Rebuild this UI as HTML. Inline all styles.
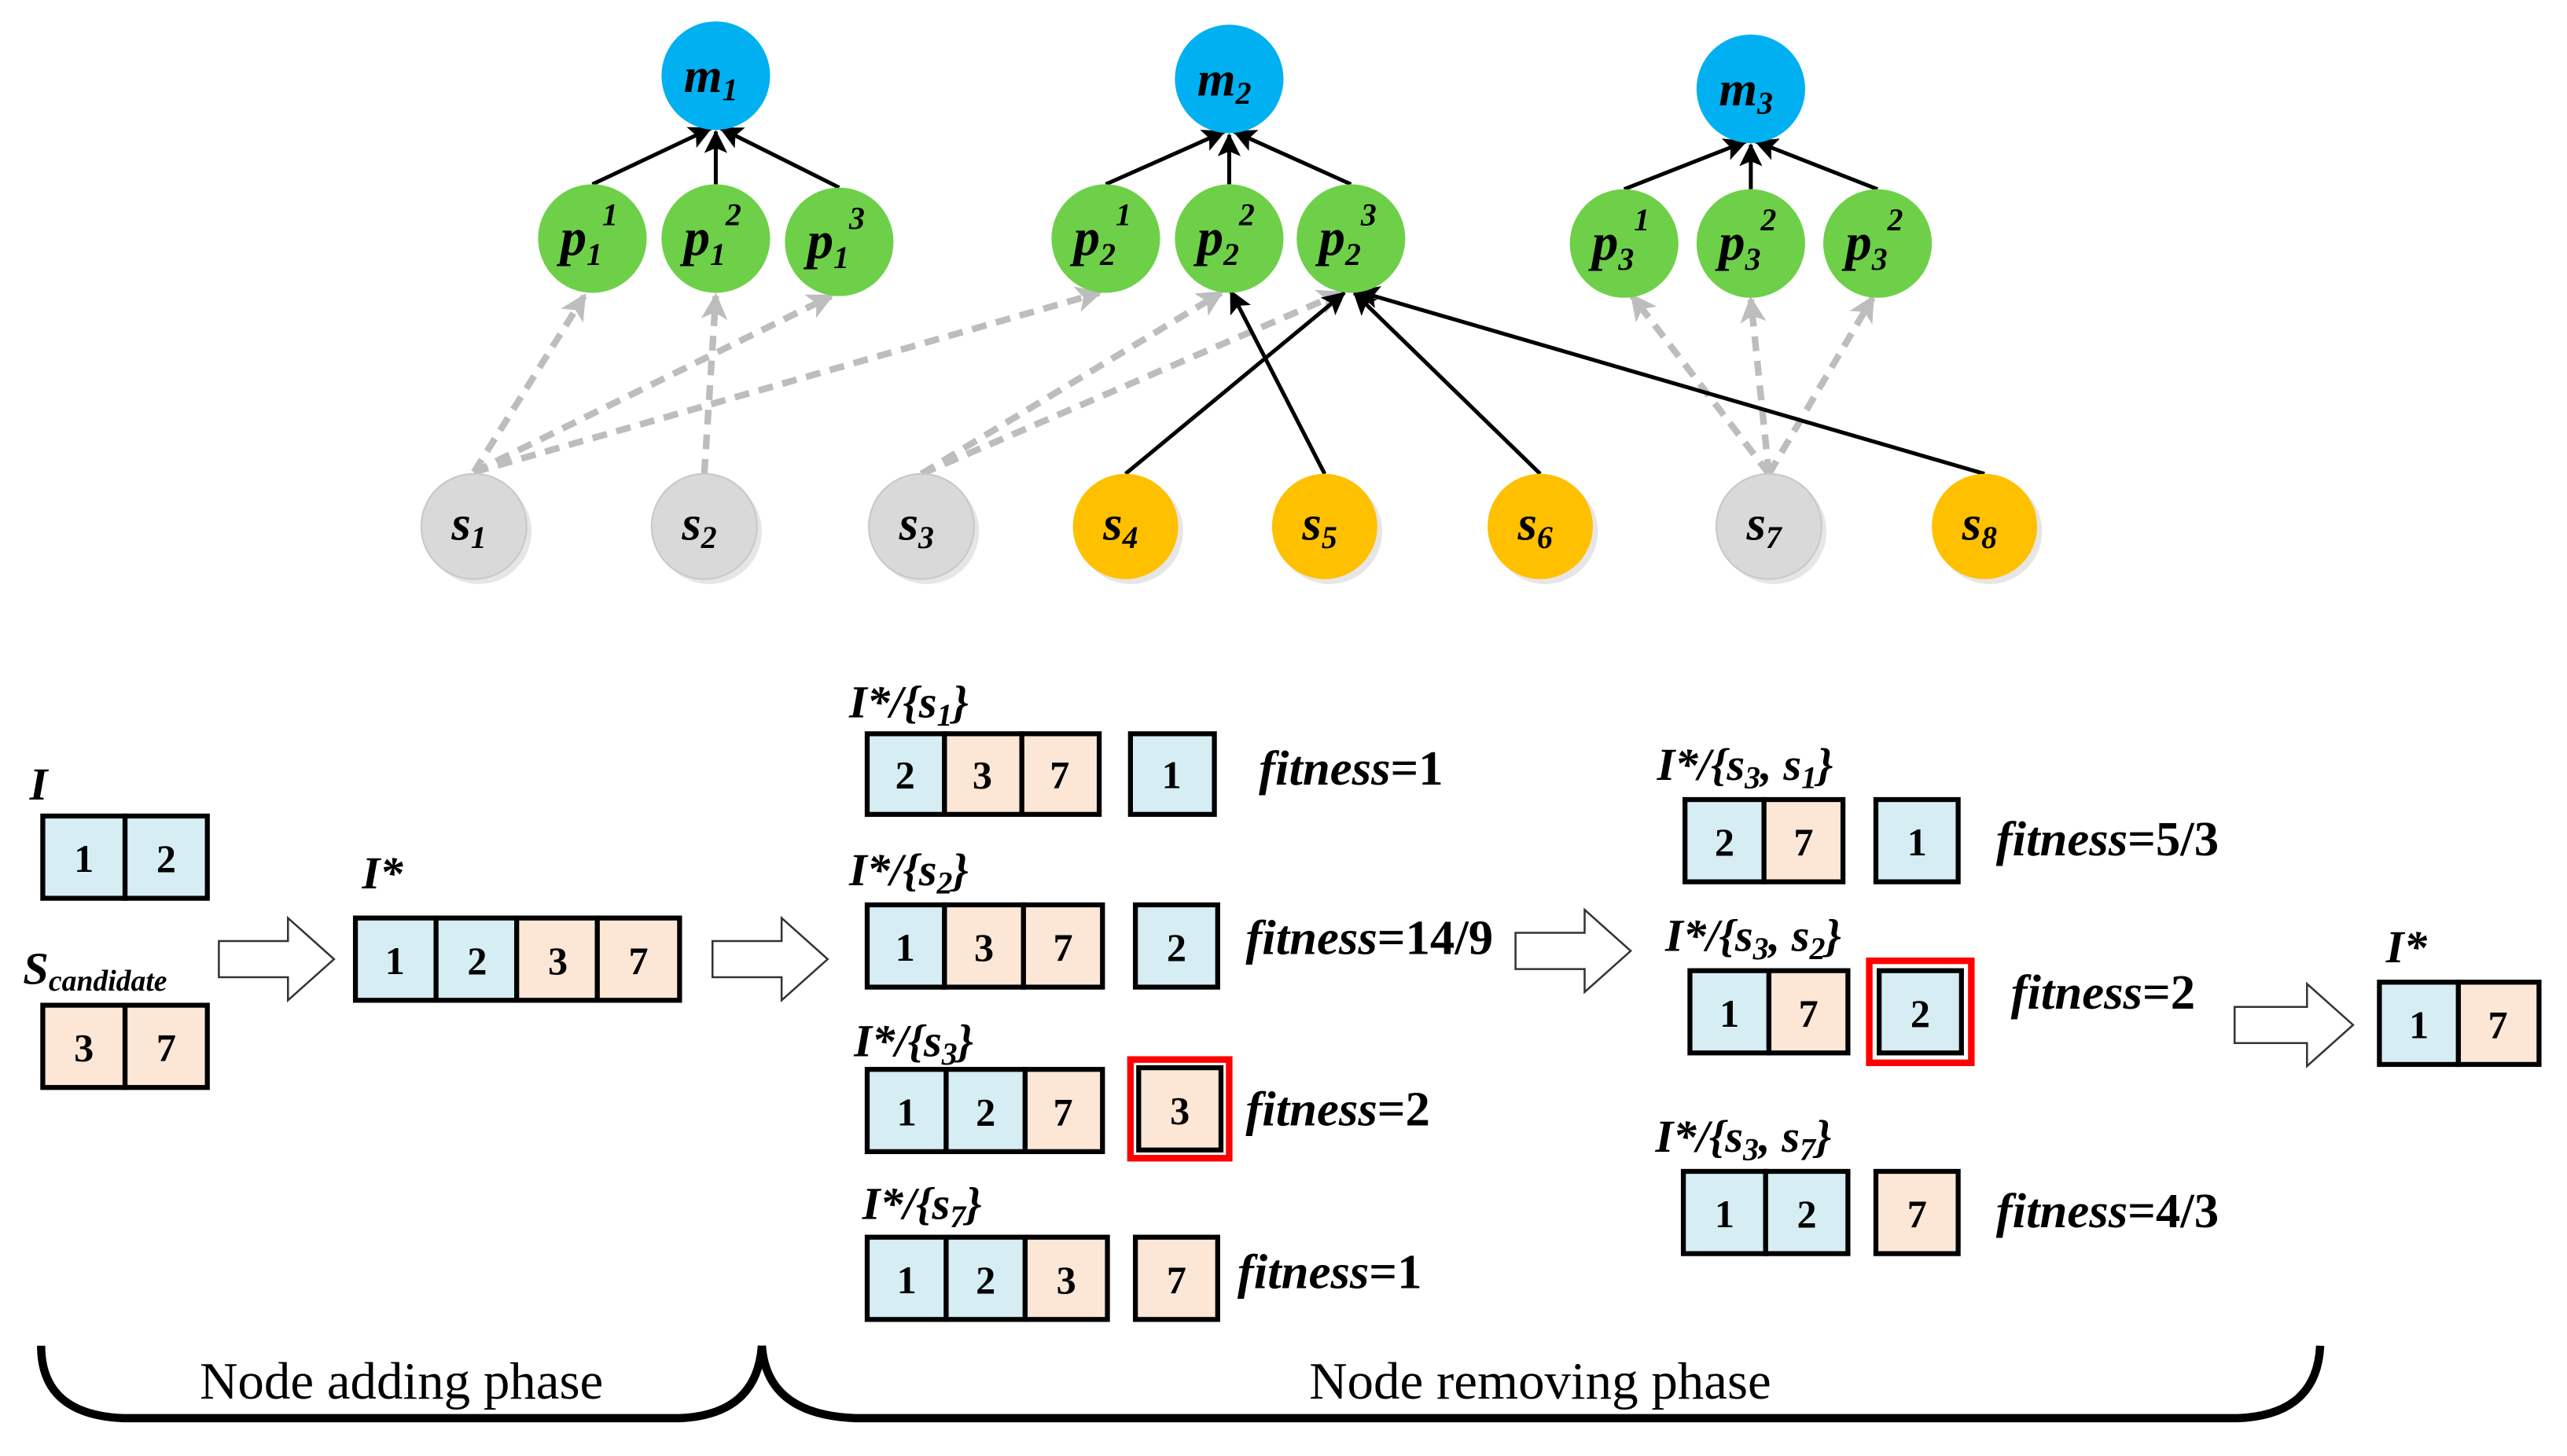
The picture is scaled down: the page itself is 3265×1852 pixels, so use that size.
<!DOCTYPE html>
<html><head><meta charset="utf-8"><style>html,body{margin:0;padding:0;background:#fff}svg{display:block}svg text{font-family:"Liberation Serif","DejaVu Serif",serif}</style></head>
<body>
<svg width="3265" height="1852" viewBox="0 0 1560 885" preserveAspectRatio="none" xmlns="http://www.w3.org/2000/svg" style="font-family:'Liberation Serif',serif">
<defs>
<marker id="ab" markerWidth="14" markerHeight="14" refX="13" refY="7" orient="auto" markerUnits="userSpaceOnUse"><path d="M0,0 L14,7 L0,14 L3,7 Z" fill="#000"/></marker>
<marker id="ag" markerWidth="16" markerHeight="16" refX="14" refY="8" orient="auto" markerUnits="userSpaceOnUse"><path d="M0,0 L16,8 L0,16 L4,8 Z" fill="#bdbdbd"/></marker>
</defs>
<g stroke="#bdbdbd" stroke-width="4" stroke-dasharray="9,6" fill="none" marker-end="url(#ag)">
<line x1="288" y1="287" x2="355" y2="180"/>
<line x1="288" y1="287" x2="505" y2="180"/>
<line x1="288" y1="287" x2="668" y2="178"/>
<line x1="428" y1="288" x2="435" y2="180"/>
<line x1="560" y1="288" x2="742" y2="178"/>
<line x1="560" y1="288" x2="815" y2="178"/>
<line x1="1075" y1="288" x2="992" y2="180"/>
<line x1="1075" y1="288" x2="1064" y2="182"/>
<line x1="1075" y1="288" x2="1138" y2="181"/>
</g>
<g stroke="#000" stroke-width="2.4" fill="none" marker-end="url(#ab)">
<line x1="360" y1="112" x2="432" y2="78"/>
<line x1="435" y1="112" x2="435" y2="80"/>
<line x1="510" y1="114" x2="438" y2="78"/>
<line x1="672" y1="112" x2="744" y2="80"/>
<line x1="747" y1="112" x2="747" y2="82"/>
<line x1="821" y1="112" x2="750" y2="80"/>
<line x1="987" y1="115" x2="1061" y2="86"/>
<line x1="1064" y1="115" x2="1064" y2="88"/>
<line x1="1141" y1="115" x2="1067" y2="86"/>
<line x1="684" y1="288" x2="817" y2="178"/>
<line x1="805" y1="288" x2="748" y2="177"/>
<line x1="936" y1="288" x2="823" y2="178"/>
<line x1="1206" y1="288" x2="825" y2="177"/>
</g>
<g font-weight="bold" font-style="italic" text-anchor="middle">
<g fill="#00b0f0"><circle cx="435" cy="46" r="33"/><circle cx="747" cy="48" r="33"/><circle cx="1064" cy="54" r="33"/></g>
<g font-size="30"><text x="432" y="56">m<tspan font-size="19" dy="5">1</tspan></text><text x="744" y="58">m<tspan font-size="19" dy="5">2</tspan></text><text x="1061" y="64">m<tspan font-size="19" dy="5">3</tspan></text></g>
<g fill="#6dd048"><circle cx="360" cy="145" r="33"/><circle cx="435" cy="145" r="33"/><circle cx="510" cy="147" r="33"/><circle cx="672" cy="145" r="33"/><circle cx="747" cy="145" r="33"/><circle cx="821" cy="145" r="33"/><circle cx="987" cy="148" r="33"/><circle cx="1064" cy="148" r="33"/><circle cx="1141" cy="148" r="33"/></g>
<g font-size="32">
<text x="358" y="155">p<tspan font-size="19" dy="6">1</tspan><tspan font-size="19" dy="-24">1</tspan></text>
<text x="433" y="155">p<tspan font-size="19" dy="6">1</tspan><tspan font-size="19" dy="-24">2</tspan></text>
<text x="508" y="157">p<tspan font-size="19" dy="6">1</tspan><tspan font-size="19" dy="-24">3</tspan></text>
<text x="670" y="155">p<tspan font-size="19" dy="6">2</tspan><tspan font-size="19" dy="-24">1</tspan></text>
<text x="745" y="155">p<tspan font-size="19" dy="6">2</tspan><tspan font-size="19" dy="-24">2</tspan></text>
<text x="819" y="155">p<tspan font-size="19" dy="6">2</tspan><tspan font-size="19" dy="-24">3</tspan></text>
<text x="985" y="158">p<tspan font-size="19" dy="6">3</tspan><tspan font-size="19" dy="-24">1</tspan></text>
<text x="1062" y="158">p<tspan font-size="19" dy="6">3</tspan><tspan font-size="19" dy="-24">2</tspan></text>
<text x="1139" y="158">p<tspan font-size="19" dy="6">3</tspan><tspan font-size="19" dy="-24">2</tspan></text>
</g>
<g fill="#e6e6e6"><circle cx="291" cy="323" r="32"/><circle cx="431" cy="323" r="32"/><circle cx="563" cy="323" r="32"/><circle cx="687" cy="323" r="32"/><circle cx="808" cy="323" r="32"/><circle cx="939" cy="323" r="32"/><circle cx="1078" cy="323" r="32"/><circle cx="1209" cy="323" r="32"/></g>
<circle cx="288" cy="320" r="32" fill="#d9d9d9" stroke="#c8c8c8"/><circle cx="428" cy="320" r="32" fill="#d9d9d9" stroke="#c8c8c8"/><circle cx="560" cy="320" r="32" fill="#d9d9d9" stroke="#c8c8c8"/>
<circle cx="684" cy="320" r="32" fill="#ffc000"/><circle cx="805" cy="320" r="32" fill="#ffc000"/><circle cx="936" cy="320" r="32" fill="#ffc000"/>
<circle cx="1075" cy="320" r="32" fill="#d9d9d9" stroke="#c8c8c8"/><circle cx="1206" cy="320" r="32" fill="#ffc000"/>
<g font-size="30">
<text x="285" y="328">s<tspan font-size="19" dy="5">1</tspan></text><text x="425" y="328">s<tspan font-size="19" dy="5">2</tspan></text><text x="557" y="328">s<tspan font-size="19" dy="5">3</tspan></text><text x="681" y="328">s<tspan font-size="19" dy="5">4</tspan></text><text x="802" y="328">s<tspan font-size="19" dy="5">5</tspan></text><text x="933" y="328">s<tspan font-size="19" dy="5">6</tspan></text><text x="1072" y="328">s<tspan font-size="19" dy="5">7</tspan></text><text x="1203" y="328">s<tspan font-size="19" dy="5">8</tspan></text>
</g>
</g>
<g stroke="#000" stroke-width="3" font-size="24" font-weight="bold" text-anchor="middle">
<rect x="26" y="496" width="50" height="50" fill="#d5edf3"/><rect x="76" y="496" width="50" height="50" fill="#d5edf3"/>
<rect x="26" y="611" width="50" height="50" fill="#fce6d6"/><rect x="76" y="611" width="50" height="50" fill="#fce6d6"/>
<rect x="216" y="558" width="49" height="50" fill="#d5edf3"/><rect x="265" y="558" width="49" height="50" fill="#d5edf3"/><rect x="314" y="558" width="49" height="50" fill="#fce6d6"/><rect x="363" y="558" width="50" height="50" fill="#fce6d6"/>
<rect x="527" y="446" width="47" height="49" fill="#d5edf3"/><rect x="574" y="446" width="47" height="49" fill="#fce6d6"/><rect x="621" y="446" width="47" height="49" fill="#fce6d6"/><rect x="687" y="446" width="51" height="49" fill="#d5edf3"/>
<rect x="527" y="550" width="47" height="50" fill="#d5edf3"/><rect x="574" y="550" width="48" height="50" fill="#fce6d6"/><rect x="622" y="550" width="48" height="50" fill="#fce6d6"/><rect x="690" y="550" width="50" height="50" fill="#d5edf3"/>
<rect x="527" y="650" width="48" height="50" fill="#d5edf3"/><rect x="575" y="650" width="48" height="50" fill="#d5edf3"/><rect x="623" y="650" width="47" height="50" fill="#fce6d6"/><rect x="692" y="649" width="50" height="50" fill="#fce6d6"/>
<rect x="527" y="752" width="48" height="50" fill="#d5edf3"/><rect x="575" y="752" width="48" height="50" fill="#d5edf3"/><rect x="623" y="752" width="50" height="50" fill="#fce6d6"/><rect x="690" y="752" width="50" height="50" fill="#fce6d6"/>
<rect x="1024" y="486" width="48" height="50" fill="#d5edf3"/><rect x="1072" y="486" width="48" height="50" fill="#fce6d6"/><rect x="1140" y="486" width="50" height="50" fill="#d5edf3"/>
<rect x="1027" y="590" width="48" height="50" fill="#d5edf3"/><rect x="1075" y="590" width="48" height="50" fill="#fce6d6"/><rect x="1142" y="590" width="50" height="50" fill="#d5edf3"/>
<rect x="1023" y="712" width="50" height="50" fill="#d5edf3"/><rect x="1073" y="712" width="50" height="50" fill="#d5edf3"/><rect x="1140" y="712" width="50" height="50" fill="#fce6d6"/>
<rect x="1446" y="597" width="48" height="50" fill="#d5edf3"/><rect x="1494" y="597" width="49" height="50" fill="#fce6d6"/>
<rect x="687" y="644" width="60" height="60" fill="none" stroke="#f00" stroke-width="4"/>
<rect x="1136" y="584" width="62" height="62" fill="none" stroke="#f00" stroke-width="4"/>
<g stroke="none" fill="#000">
<text x="51" y="530">1</text><text x="101" y="530">2</text><text x="51" y="645">3</text><text x="101" y="645">7</text>
<text x="240" y="592">1</text><text x="290" y="592">2</text><text x="339" y="592">3</text><text x="388" y="592">7</text>
<text x="550" y="479">2</text><text x="597" y="479">3</text><text x="644" y="479">7</text><text x="712" y="479">1</text>
<text x="550" y="584">1</text><text x="598" y="584">3</text><text x="646" y="584">7</text><text x="715" y="584">2</text>
<text x="551" y="684">1</text><text x="599" y="684">2</text><text x="646" y="684">7</text><text x="717" y="683">3</text>
<text x="551" y="786">1</text><text x="599" y="786">2</text><text x="648" y="786">3</text><text x="715" y="786">7</text>
<text x="1048" y="520">2</text><text x="1096" y="520">7</text><text x="1165" y="520">1</text>
<text x="1051" y="624">1</text><text x="1099" y="624">7</text><text x="1167" y="624">2</text>
<text x="1048" y="746">1</text><text x="1098" y="746">2</text><text x="1165" y="746">7</text>
<text x="1470" y="631">1</text><text x="1518" y="631">7</text>
</g>
</g>
<g fill="#fff" stroke="#333" stroke-width="1.2">
<path d="M133,572 H175 V558 L203,583 L175,608 V594 H133 Z"/>
<path d="M433,572 H475 V558 L503,583 L475,608 V594 H433 Z"/>
<path d="M921,567 H963 V553 L991,578 L963,603 V589 H921 Z"/>
<path d="M1358,612 H1402 V598 L1430,623 L1402,648 V634 H1358 Z"/>
</g>
<g font-weight="bold" font-style="italic" font-size="28" fill="#000">
<text x="18" y="486">I</text>
<text x="14" y="598">S<tspan font-size="18" dy="4">candidate</tspan></text>
<text x="220" y="540">I*</text>
<text x="1450" y="585">I*</text>
<text x="516" y="436">I*/{s<tspan font-size="19" dy="5">1</tspan><tspan dy="-5">}</tspan></text>
<text x="516" y="538">I*/{s<tspan font-size="19" dy="5">2</tspan><tspan dy="-5">}</tspan></text>
<text x="519" y="642">I*/{s<tspan font-size="19" dy="5">3</tspan><tspan dy="-5">}</tspan></text>
<text x="524" y="741">I*/{s<tspan font-size="19" dy="5">7</tspan><tspan dy="-5">}</tspan></text>
<text x="1007" y="474">I*/{s<tspan font-size="19" dy="5">3</tspan><tspan dy="-5">, s</tspan><tspan font-size="19" dy="5">1</tspan><tspan dy="-5">}</tspan></text>
<text x="1012" y="578">I*/{s<tspan font-size="19" dy="5">3</tspan><tspan dy="-5">, s</tspan><tspan font-size="19" dy="5">2</tspan><tspan dy="-5">}</tspan></text>
<text x="1006" y="700">I*/{s<tspan font-size="19" dy="5">3</tspan><tspan dy="-5">, s</tspan><tspan font-size="19" dy="5">7</tspan><tspan dy="-5">}</tspan></text>
<g font-size="30">
<text x="765" y="477">fitness<tspan font-style="normal">=1</tspan></text>
<text x="757" y="580">fitness<tspan font-style="normal">=14/9</tspan></text>
<text x="757" y="684">fitness<tspan font-style="normal">=2</tspan></text>
<text x="752" y="783">fitness<tspan font-style="normal">=1</tspan></text>
<text x="1213" y="520">fitness<tspan font-style="normal">=5/3</tspan></text>
<text x="1222" y="613">fitness<tspan font-style="normal">=2</tspan></text>
<text x="1213" y="746">fitness<tspan font-style="normal">=4/3</tspan></text>
</g>
</g>
<g fill="none" stroke="#000" stroke-width="5">
<path d="M25,818 Q25,860 75,862 H413 Q460,860 463,818"/>
<path d="M463,818 Q466,860 520,862 H1360 Q1408,860 1410,818"/>
</g>
<g font-size="32" text-anchor="middle" fill="#000">
<text x="244" y="850">Node adding phase</text>
<text x="936" y="850">Node removing phase</text>
</g>
</svg>
</body></html>
